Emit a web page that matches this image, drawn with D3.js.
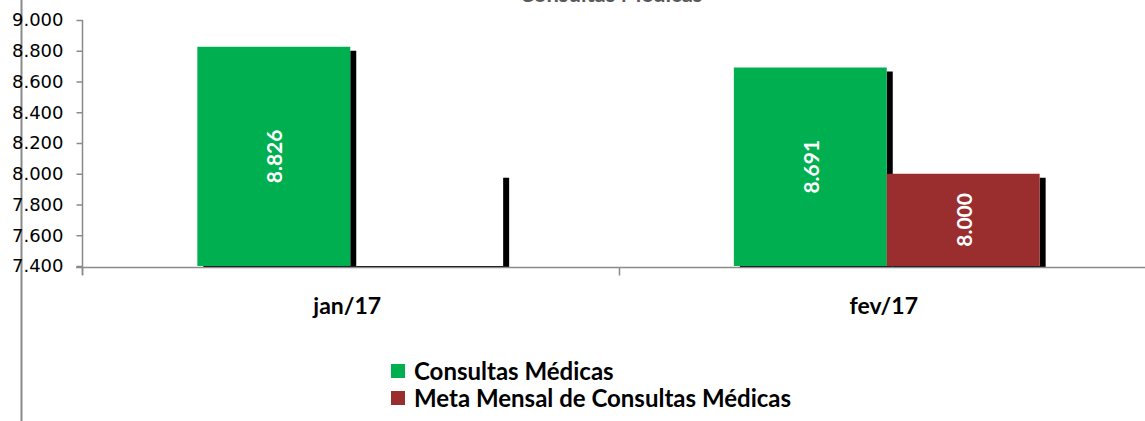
<!DOCTYPE html>
<html>
<head>
<meta charset="utf-8">
<script src="https://cdn.jsdelivr.net/npm/d3@7"></script>
<style>
  html, body { margin: 0; padding: 0; background: #fff; }
  svg { display: block; }
</style>
</head>
<body>
<svg id="chart" width="1145" height="421"></svg>
<script>
const categories = ["jan/17", "fev/17"];
const seriesNames = ["Consultas Médicas", "Meta Mensal de Consultas Médicas"];
const consultas = [8826, 8691];
const meta = [8000, 8000];
const metaShown = [false, true];
const yTicks = [7400, 7600, 7800, 8000, 8200, 8400, 8600, 8800, 9000];
const title = "Consultas Médicas";

const colors = ["#00af50", "#9a2d2e"];
const axisColor = "#8a8a8a";
const svg = d3.select("#chart");

const locale = d3.formatLocale({decimal: ",", thousands: ".", grouping: [3], currency: ["R$", ""]});
const fmt = locale.format(",d");

const baseY = 266, topY = 20, left = 82, right = 1155;
const y = d3.scaleLinear().domain([7400, 9000]).range([baseY, topY]);
const x = d3.scaleBand().domain(categories).range([left, right]).paddingInner(0.43).paddingOuter(0.215);
const xs = d3.scaleBand().domain([0, 1]).range([0, x.bandwidth()]);

// outer frame line at left
svg.append("line").attr("x1", 21.5).attr("x2", 21.5).attr("y1", 0).attr("y2", 421)
  .attr("stroke", axisColor).attr("stroke-width", 2);

// title (mostly cut off at the top, as in the source)
svg.append("text").attr("x", 611).attr("y", 2).attr("text-anchor", "middle")
  .attr("font-family", "Lato, sans-serif").attr("font-weight", "bold").attr("font-size", 22)
  .attr("fill", "#595959").text(title);

svg.append("clipPath").attr("id", "plotclip").append("rect")
  .attr("x", left).attr("y", 0).attr("width", 1145 - left).attr("height", baseY + 1);

const plot = svg.append("g").attr("clip-path", "url(#plotclip)");
const series = [consultas, meta];
const dx = 6, dy = 4;
series.forEach((vals, si) => {
  const g = plot.append("g");
  categories.forEach((c, ci) => {
    const bx = x(c) + xs(si), bw = xs.bandwidth();
    const by = y(vals[ci]), bh = baseY - by;
    const filled = si === 0 || metaShown[ci];
    // shadow minus the bar area (L-shaped)
    const p = `M${bx + bw},${by + dy}H${bx + bw + dx}V${by + bh + 10}H${bx + dx}V${by + bh}H${bx + bw}Z`;
    g.append("path").attr("d", p).attr("fill", "#000");
    g.append("rect").attr("x", bx).attr("y", by).attr("width", bw).attr("height", bh)
      .attr("fill", filled ? colors[si] : "none");
  });
});

// data labels
series.forEach((vals, si) => {
  categories.forEach((c, ci) => {
    if (si === 1 && !metaShown[ci]) return;
    const cx = x(c) + xs(si) + xs.bandwidth() / 2;
    const cy = (y(vals[ci]) + baseY) / 2;
    svg.append("text").attr("transform", `translate(${cx},${cy}) rotate(-90)`)
      .attr("text-anchor", "middle").attr("dominant-baseline", "central")
      .attr("font-family", "Lato, sans-serif").attr("font-weight", "bold").attr("font-size", 21)
      .attr("fill", "#fff").text(fmt(vals[ci]));
  });
});

// y axis
const yAxis = svg.append("g").attr("transform", `translate(${left + 0.5},0)`)
  .call(d3.axisLeft(y).tickValues(yTicks).tickFormat(fmt).tickSize(6).tickPadding(13));
yAxis.select(".domain").attr("stroke", axisColor).attr("stroke-width", 1.5)
  .attr("d", `M0,${topY}V${baseY + 9}`);
yAxis.selectAll(".tick line").attr("stroke", axisColor).attr("stroke-width", 1.5);
yAxis.selectAll(".tick text").attr("font-family", "DejaVu Sans, sans-serif").attr("font-size", 18)
  .attr("fill", "#000");

// x axis
const xAxisY = baseY + 1.5;
svg.append("line").attr("x1", left - 6).attr("x2", 1145).attr("y1", xAxisY).attr("y2", xAxisY)
  .attr("stroke", axisColor).attr("stroke-width", 1.5);
d3.range(categories.length + 1).forEach(i => {
  const tx = Math.round(left + i * x.step()) + 0.5;
  svg.append("line").attr("x1", tx).attr("x2", tx).attr("y1", xAxisY).attr("y2", xAxisY + 8)
    .attr("stroke", axisColor).attr("stroke-width", 1.5);
});
const xAxis = svg.append("g").attr("transform", `translate(-3,${xAxisY})`)
  .call(d3.axisBottom(x).tickSize(0).tickPadding(30));
xAxis.select(".domain").remove();
xAxis.selectAll(".tick text").attr("font-family", "Lato, sans-serif").attr("font-weight", "bold")
  .attr("font-size", 23).attr("fill", "#000");

// legend
const legend = svg.append("g").attr("transform", "translate(391,364)");
seriesNames.forEach((n, i) => {
  const row = legend.append("g").attr("transform", `translate(0,${i * 27})`);
  row.append("rect").attr("width", 14).attr("height", 14).attr("fill", colors[i]);
  row.append("text").attr("x", 23).attr("y", 16).attr("font-family", "Lato, sans-serif")
    .attr("font-weight", "bold").attr("font-size", 24).attr("fill", "#000").text(n);
});
</script>
</body>
</html>
